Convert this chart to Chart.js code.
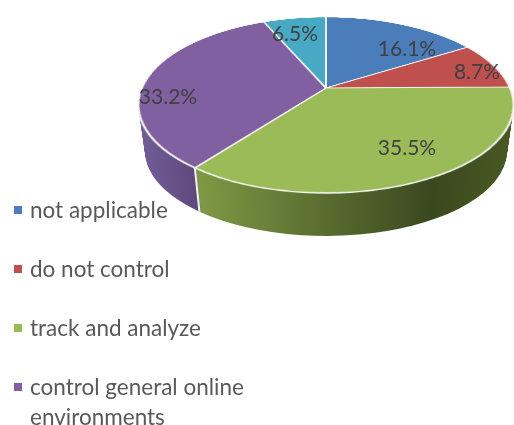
<!DOCTYPE html>
<html>
<head>
<meta charset="utf-8">
<script src="https://cdn.jsdelivr.net/npm/chart.js@4/dist/chart.umd.min.js"></script>
<style>
    html, body { margin: 0; padding: 0; background: #fff; }
    #page { position: relative; width: 514px; height: 425px; overflow: hidden; font-family: Lato, sans-serif; }
    canvas { position: absolute; }
    #side-chart { left: 131px; top: -90px; }
    /* Tilts the flat pie so the apex sits above the centre of the ellipse, like a 3D pie */
    #top-chart { left: 126px; top: -112px; transform: matrix3d(1,0,0,0, 0,0.4603,0,-0.00105, 0,0,1,0, 0,0,0,1); }
    .slice-label { position: absolute; transform: translate(-50%, -50%); font-size: 21px; color: #404040; white-space: nowrap; }
    #legend { position: absolute; left: 14px; top: 195px; width: 240px; }
    .legend-item { position: relative; padding-left: 16px; margin-bottom: 29px; font-size: 22.5px; line-height: 30px; color: #595959; }
    .legend-box { position: absolute; left: 0; top: 11px; width: 8px; height: 8px; }
</style>
</head>
<body>
<div id="page">
    <canvas id="side-chart" width="390" height="390"></canvas>
    <canvas id="top-chart" width="400" height="400"></canvas>
    <div id="legend"></div>
</div>
<script>
const categories = ['not applicable', 'do not control', 'track and analyze', 'control general online environments', ''];
const shares = [16.1, 8.7, 35.5, 33.2, 6.5];
const sliceColors = ['#4a7dba', '#c0504d', '#9bbb59', '#8060a0', '#48a9c5'];
const labelSpots = [[407, 47], [477, 70], [407, 146], [168, 95], [295, 32]];

const topRadius = 184;
const rimRadiusX = 187.5;
const rimRadiusY = 88;
const wallDepth = 46;
const wallShrink = 0.035; // lower rim looks a bit smaller, further from the viewer

// Same projection as the css matrix on the top chart, gives the angle on the drawn ellipse
function rimShares(values) {
    const total = values.reduce((a, b) => a + b, 0);
    const result = [];
    let used = 0;
    let previous = 0;
    values.forEach(value => {
        used += value;
        const angle = used / total * 2 * Math.PI;
        const w = 1 + 0.1932 * Math.cos(angle);
        const x = 184 * Math.sin(angle) / w;
        const y = -84.7 * Math.cos(angle) / w - 17;
        let rim = Math.atan2(x / rimRadiusX, -y / rimRadiusY);
        if (rim < 0) rim += 2 * Math.PI;
        if (used >= total) rim = 2 * Math.PI;
        result.push(rim - previous);
        previous = rim;
    });
    return result;
}

function wallGradient(ctx, stops) {
    const gradient = ctx.createLinearGradient(0, 0, 390, 0);
    stops.forEach(stop => gradient.addColorStop(stop[0], stop[1]));
    return gradient;
}

const sideCtx = document.getElementById('side-chart').getContext('2d');
const greenWall = wallGradient(sideCtx, [[0.16, '#7f9a45'], [0.5, '#586c30'], [0.78, '#3a481e'], [1, '#4a5a24']]);
const purpleWall = wallGradient(sideCtx, [[0, '#73609a'], [0.16, '#5e4a7c']]);

const wallPlugin = {
    id: 'wall',
    beforeDatasetsDraw(chart) {
        const ctx = chart.ctx;
        const arcs = chart.getDatasetMeta(0).data;
        const cx = arcs[0].x;
        const cy = arcs[0].y;
        const squash = rimRadiusY / rimRadiusX;
        for (let depth = wallDepth; depth >= 0; depth--) {
            const size = 1 - wallShrink * depth / wallDepth;
            ctx.save();
            ctx.translate(cx, cy + depth);
            ctx.scale(size, squash * size);
            ctx.translate(-cx, -cy);
            arcs.forEach(arc => arc.draw(ctx));
            ctx.restore();
        }
        // White seam between the purple and green walls
        const seam = arcs[3].startAngle;
        const lowSize = 1 - wallShrink;
        ctx.strokeStyle = '#f2f2f2';
        ctx.lineWidth = 2;
        ctx.beginPath();
        ctx.moveTo(cx + rimRadiusX * Math.cos(seam), cy + rimRadiusY * Math.sin(seam));
        ctx.lineTo(cx + rimRadiusX * lowSize * Math.cos(seam), cy + wallDepth + rimRadiusY * lowSize * Math.sin(seam));
        ctx.stroke();
        return false;
    },
};

new Chart(sideCtx, {
    type: 'pie',
    data: {
        labels: categories,
        datasets: [{
            data: rimShares(shares),
            backgroundColor: ['#3a481e', '#3a481e', greenWall, purpleWall, '#5e4a7c'],
            borderWidth: 0,
        }],
    },
    options: {
        responsive: false,
        animation: false,
        radius: rimRadiusX,
        plugins: { legend: { display: false }, tooltip: { enabled: false } },
    },
    plugins: [wallPlugin],
});

new Chart(document.getElementById('top-chart').getContext('2d'), {
    type: 'pie',
    data: {
        labels: categories,
        datasets: [{
            data: shares,
            backgroundColor: sliceColors,
            borderColor: '#f4f6f2',
            borderWidth: 2,
        }],
    },
    options: {
        responsive: false,
        animation: false,
        radius: topRadius,
        plugins: { legend: { display: false }, tooltip: { enabled: false } },
    },
});

const page = document.getElementById('page');
shares.forEach((share, i) => {
    const label = document.createElement('div');
    label.className = 'slice-label';
    label.textContent = share.toFixed(1) + '%';
    label.style.left = labelSpots[i][0] + 'px';
    label.style.top = labelSpots[i][1] + 'px';
    page.appendChild(label);
});

const legend = document.getElementById('legend');
categories.forEach((name, i) => {
    if (!name) return;
    const item = document.createElement('div');
    item.className = 'legend-item';
    const box = document.createElement('span');
    box.className = 'legend-box';
    box.style.background = sliceColors[i];
    item.appendChild(box);
    item.appendChild(document.createTextNode(name));
    legend.appendChild(item);
});
</script>
</body>
</html>
